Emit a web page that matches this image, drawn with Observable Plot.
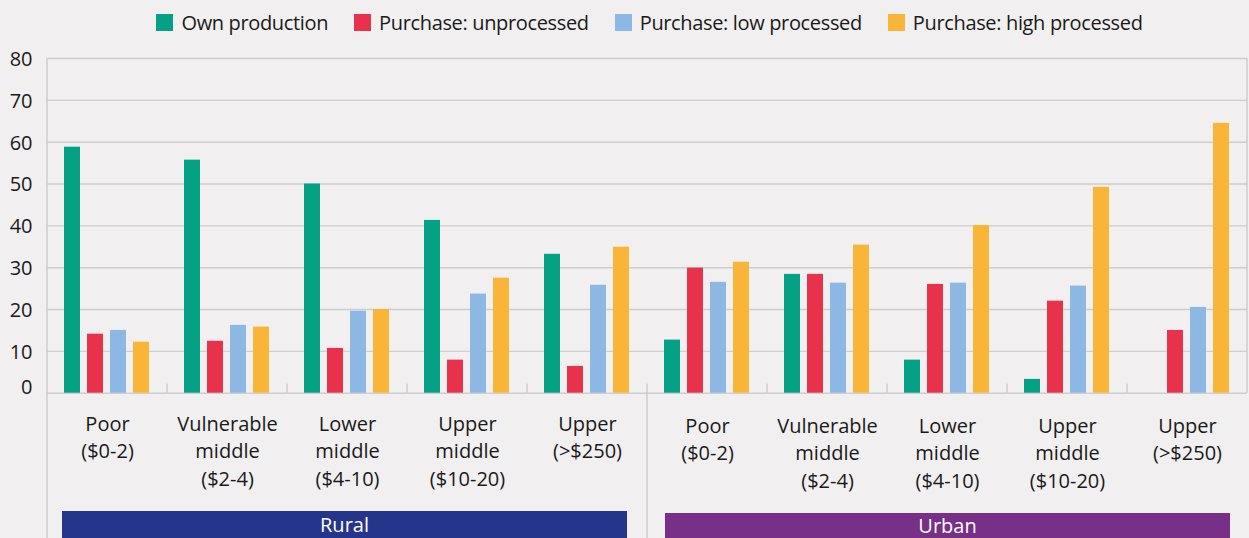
<!DOCTYPE html>
<html>
<head>
<meta charset="utf-8">
<script src="https://cdn.jsdelivr.net/npm/d3@7"></script>
<script src="https://cdn.jsdelivr.net/npm/@observablehq/plot@0.6"></script>
<style>
  body { margin: 0; background: #f1eff0; }
  #chart { width: 1249px; height: 538px; overflow: hidden; position: relative; background: #f1eff0;
           font-family: "Open Sans", sans-serif; color: #1a1a1a; }
  #legend { height: 44px; display: flex; align-items: center; justify-content: center; gap: 26px;
            padding-left: 51px; padding-right: 1px; box-sizing: border-box; font-size: 20px; letter-spacing: -0.35px; }
  .item { display: flex; align-items: center; gap: 8px; white-space: nowrap; }
  .sw { width: 17px; height: 17px; display: inline-block; }
  svg { display: block; overflow: visible; }
</style>
</head>
<body>
<div id="chart"><div id="legend"></div></div>
<script>
// ---- data ----
const regions = ["Rural", "Rural", "Rural", "Rural", "Rural", "Urban", "Urban", "Urban", "Urban", "Urban"];
const classLabels = [
  "Poor\n($0-2)", "Vulnerable\nmiddle\n($2-4)", "Lower\nmiddle\n($4-10)", "Upper\nmiddle\n($10-20)", "Upper\n(>$250)",
  "Poor\n($0-2)", "Vulnerable\nmiddle\n($2-4)", "Lower\nmiddle\n($4-10)", "Upper\nmiddle\n($10-20)", "Upper\n(>$250)"
];
const series = ["Own production", "Purchase: unprocessed", "Purchase: low processed", "Purchase: high processed"];
const seriesColors = ["#05a187", "#e8314b", "#8db8e4", "#f9b537"];
const ownProduction        = [58.8, 55.7, 50.0, 41.3, 33.2, 12.7, 28.4, 7.9, 3.3, 0];
const purchaseUnprocessed  = [14.1, 12.4, 10.7, 7.9, 6.4, 29.9, 28.4, 26.0, 22.0, 15.0];
const purchaseLowProcessed = [15.0, 16.2, 19.6, 23.7, 25.8, 26.5, 26.3, 26.3, 25.6, 20.5];
const purchaseHighProcessed= [12.2, 15.8, 20.0, 27.5, 34.9, 31.3, 35.4, 40.1, 49.2, 64.5];
const yTicks = [0, 10, 20, 30, 40, 50, 60, 70, 80];
const regionNames = ["Rural", "Urban"];
const regionColors = ["#26358c", "#782f87"];

// ---- build tables ----
const groupIds = classLabels.map((l, i) => regions[i] + "|" + i);
const seriesValues = [ownProduction, purchaseUnprocessed, purchaseLowProcessed, purchaseHighProcessed];
const rows = [];
groupIds.forEach((g, i) => seriesValues.forEach((vals, s) => rows.push({group: g, series: series[s], value: vals[i]})));
const labelRows = groupIds.map((g, i) => ({group: g, region: regions[i], label: classLabels[i]}));

// ---- legend ----
const legend = document.getElementById("legend");
series.forEach((s, i) => {
  const it = document.createElement("div");
  it.className = "item";
  it.innerHTML = `<span class="sw" style="background:${seriesColors[i]}"></span><span>${s}</span>`;
  legend.appendChild(it);
});

// ---- plot ----
const H = 494;
const plot = Plot.plot({
  width: 1249,
  height: H,
  marginTop: 14,
  marginLeft: 46,
  marginRight: 1,
  marginBottom: 145.3,
  style: {background: "transparent", fontFamily: "Open Sans, sans-serif", fontSize: "20px", color: "#1a1a1a"},
  fx: {domain: groupIds, padding: 0, axis: null},
  x: {domain: series, paddingInner: 0.29, paddingOuter: 0.65, axis: null},
  y: {domain: [0, 80], axis: null},
  color: {domain: series, range: seriesColors},
  marks: [
    Plot.ruleY(yTicks, {stroke: "#cfcdce", strokeWidth: 1.4}),
    Plot.axisY(yTicks.filter(d => d > 0), {tickSize: 0, tickPadding: 15, fontSize: 20, dy: 1, label: null}),
    Plot.axisY([0], {tickSize: 0, tickPadding: 15, fontSize: 20, dy: -6, label: null}),
    Plot.barY(rows, {fx: "group", x: "series", y: "value", fill: "series"}),
    Plot.text(labelRows.filter(d => d.region === "Rural"), {fx: "group", text: "label", frameAnchor: "bottom",
      lineAnchor: "top", dy: 18, fontSize: 20, lineHeight: 1.38, fill: "#1a1a1a"}),
    Plot.text(labelRows.filter(d => d.region === "Urban"), {fx: "group", text: "label", frameAnchor: "bottom",
      lineAnchor: "top", dy: 20, fontSize: 20, lineHeight: 1.38, fill: "#1a1a1a"})
  ]
});

// ---- frame lines, group ticks and region banners from the fx scale ----
const fx = plot.scale("fx");
const y = plot.scale("y");
const bw = fx.bandwidth;
const left = g => fx.apply(g);
const y0 = y.apply(0), yTop = y.apply(80);
const svg = d3.select(plot);
const deco = svg.append("g");
const lineColor = "#c9c7c8";
// full-height lines: left axis and region divider
[groupIds[0], groupIds[5]].forEach(g => {
  deco.append("line").attr("x1", left(g)).attr("x2", left(g)).attr("y1", g === groupIds[0] ? yTop : y0 - 9).attr("y2", H)
    .attr("stroke", lineColor).attr("stroke-width", 1.3);
});
// right border
deco.append("line").attr("x1", left(groupIds[9]) + bw).attr("x2", left(groupIds[9]) + bw).attr("y1", yTop).attr("y2", y0)
  .attr("stroke", lineColor).attr("stroke-width", 1.3);
// small ticks between groups
groupIds.forEach((g, i) => {
  if (i === 0 || i === 5) return;
  deco.append("line").attr("x1", left(g)).attr("x2", left(g)).attr("y1", y0 - 9).attr("y2", y0)
    .attr("stroke", lineColor).attr("stroke-width", 1.3);
});
// region banners
const bannerSpec = [
  {first: groupIds[0], last: groupIds[4], insetL: 15, insetR: 20, top: 467, base: 488},
  {first: groupIds[5], last: groupIds[9], insetL: 18, insetR: 17, top: 469, base: 489}
];
bannerSpec.forEach((b, i) => {
  const x1 = left(b.first) + b.insetL, x2 = left(b.last) + bw - b.insetR;
  deco.append("rect").attr("x", x1).attr("y", b.top).attr("width", x2 - x1).attr("height", H - b.top).attr("fill", regionColors[i]);
  deco.append("text").attr("x", (x1 + x2) / 2).attr("y", b.base).attr("text-anchor", "middle")
    .attr("fill", "white").attr("font-size", 20).attr("font-family", "Open Sans, sans-serif").text(regionNames[i]);
});

document.getElementById("chart").appendChild(plot);
</script>
</body>
</html>
